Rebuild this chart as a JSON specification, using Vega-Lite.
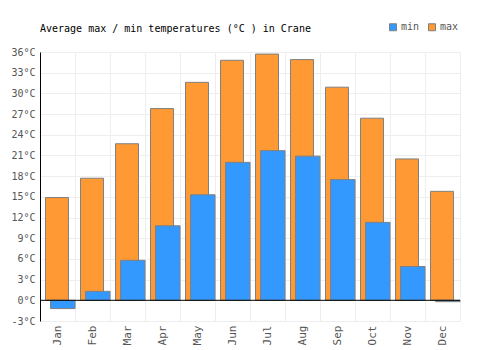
{
  "$schema": "https://vega.github.io/schema/vega-lite/v6.json",
  "width": 420,
  "height": 269,
  "autosize": {"type": "none"},
  "padding": {"left": 40, "top": 52, "right": 40, "bottom": 29},
  "background": "white",
  "title": {
    "text": "Average max / min temperatures (°C ) in Crane",
    "anchor": "start",
    "frame": "group",
    "font": "DejaVu Sans Mono",
    "fontSize": 10,
    "fontWeight": "normal",
    "color": "#000000",
    "offset": -12
  },
  "config": {
    "view": {"stroke": null},
    "axis": {
      "labelFont": "DejaVu Sans Mono",
      "labelColor": "#555555",
      "gridColor": "#eeeeee",
      "gridWidth": 1,
      "titleFont": "DejaVu Sans Mono"
    }
  },
  "data": {
    "values": [
      {"month": "Jan", "series": "max", "temp": 14.9},
      {"month": "Feb", "series": "max", "temp": 17.7},
      {"month": "Mar", "series": "max", "temp": 22.7},
      {"month": "Apr", "series": "max", "temp": 27.8},
      {"month": "May", "series": "max", "temp": 31.6},
      {"month": "Jun", "series": "max", "temp": 34.8},
      {"month": "Jul", "series": "max", "temp": 35.7},
      {"month": "Aug", "series": "max", "temp": 34.9},
      {"month": "Sep", "series": "max", "temp": 30.9},
      {"month": "Oct", "series": "max", "temp": 26.4},
      {"month": "Nov", "series": "max", "temp": 20.5},
      {"month": "Dec", "series": "max", "temp": 15.8},
      {"month": "Jan", "series": "min", "temp": -1.2},
      {"month": "Feb", "series": "min", "temp": 1.3},
      {"month": "Mar", "series": "min", "temp": 5.8},
      {"month": "Apr", "series": "min", "temp": 10.8},
      {"month": "May", "series": "min", "temp": 15.3},
      {"month": "Jun", "series": "min", "temp": 20.0},
      {"month": "Jul", "series": "min", "temp": 21.7},
      {"month": "Aug", "series": "min", "temp": 20.9},
      {"month": "Sep", "series": "min", "temp": 17.5},
      {"month": "Oct", "series": "min", "temp": 11.3},
      {"month": "Nov", "series": "min", "temp": 4.9},
      {"month": "Dec", "series": "min", "temp": -0.2}
    ]
  },
  "encoding": {
    "x": {
      "field": "month",
      "type": "nominal",
      "sort": ["Jan","Feb","Mar","Apr","May","Jun","Jul","Aug","Sep","Oct","Nov","Dec"],
      "scale": {"paddingInner": 0, "paddingOuter": 0},
      "axis": {
        "title": null,
        "labelAngle": -90,
        "labelFontSize": 11,
        "labelPadding": 4,
        "grid": true,
        "tickBand": "extent",
        "ticks": false,
        "domain": false
      }
    },
    "y": {
      "field": "temp",
      "type": "quantitative",
      "scale": {"domain": [-3, 36], "nice": false, "zero": false},
      "axis": {
        "title": null,
        "values": [-3,0,3,6,9,12,15,18,21,24,27,30,33,36],
        "labelExpr": "datum.value + '°C'",
        "labelFontSize": 10,
        "labelPadding": 5,
        "ticks": false,
        "domain": true,
        "domainColor": "#000000",
        "grid": true
      }
    }
  },
  "layer": [
    {
      "transform": [{"filter": "datum.series == 'max'"}],
      "mark": {"type": "bar", "width": 23, "xOffset": -0.5, "stroke": "#808080", "strokeWidth": 1},
      "encoding": {
        "color": {
          "field": "series",
          "type": "nominal",
          "scale": {"domain": ["min", "max"], "range": ["#3399ff", "#ff9933"]},
          "legend": {
            "title": null,
            "orient": "none",
            "direction": "horizontal",
            "legendX": 348,
            "legendY": -30,
            "symbolType": "square",
            "symbolSize": 49,
            "symbolStrokeColor": "#808080",
            "symbolStrokeWidth": 1,
            "symbolOpacity": 1,
            "labelFont": "DejaVu Sans Mono",
            "labelFontSize": 10,
            "labelColor": "#555555",
            "labelOffset": 3,
            "columnPadding": 6,
            "padding": 0
          }
        }
      }
    },
    {
      "transform": [{"filter": "datum.series == 'min'"}],
      "mark": {"type": "bar", "width": 24.5, "xOffset": 5.3, "stroke": "#808080", "strokeWidth": 1},
      "encoding": {
        "color": {"field": "series", "type": "nominal"}
      }
    },
    {
      "data": {"values": [{"zero": 0}]},
      "mark": {"type": "rule", "color": "#000000", "strokeWidth": 1},
      "encoding": {
        "y": {"field": "zero", "type": "quantitative"},
        "x": null
      }
    }
  ]
}
